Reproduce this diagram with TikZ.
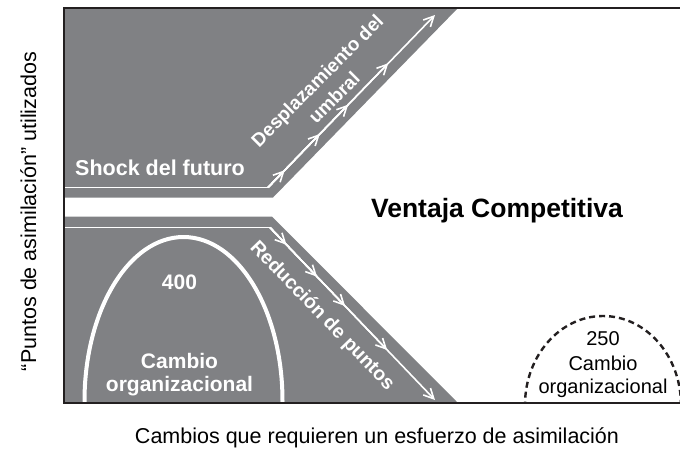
\documentclass[tikz,border=0pt]{standalone}
\usepackage{fontspec}
\setmainfont{Liberation Sans}
\usetikzlibrary{arrows.meta,calc}
\definecolor{shade}{RGB}{128,129,132}
\definecolor{ink}{RGB}{35,31,32}
\begin{document}
\begin{tikzpicture}[x=1pt,y=-1pt,
  region/.style={fill=shade,draw=none},
  axisline/.style={draw=ink,line width=2.6pt},
  flowline/.style={draw=white,line width=1.8pt},
  flowarrow/.style={draw=white,line width=1.6pt,-{Straight Barb[length=10pt,width=10pt,line width=1.6pt]}},
  archline/.style={draw=white,line width=4pt},
  dasharch/.style={draw=ink,line width=2.4pt,dash pattern=on 6pt off 4pt},
  lbl/.style={inner sep=0pt,text=black},
  wlbl/.style={inner sep=0pt,text=white},
]
\useasboundingbox (0,0) rectangle (680,451);
% regions
\fill[region] (64,8) -- (458,8) -- (273,197.5) -- (64,197.5) -- cycle;
\fill[region] (64,216.5) -- (272,216.5) -- (458,403) -- (64,403) -- cycle;
% arches
\begin{scope}
  \clip (64,8) rectangle (690,403);
  \draw[archline] (183.5,401) ellipse [x radius=99, y radius=164];
  \draw[dasharch] (603,405) ellipse [x radius=78, y radius=89];
\end{scope}
% upper flow
\coordinate (u0) at (64,187.5);
\coordinate (uk) at (268,187.5);
\coordinate (ut) at (435,15);
\draw[flowline] (u0) -- (uk);
\foreach \f in {0.10,0.31,0.48,0.72,1.0}
  \draw[flowarrow] (uk) -- ($(uk)!\f!(ut)$);
% lower flow
\coordinate (l0) at (64,227.5);
\coordinate (lk) at (270,227.5);
\coordinate (lt) at (435,400);
\draw[flowline] (l0) -- (lk);
\foreach \f in {0.10,0.285,0.455,0.71,1.0}
  \draw[flowarrow] (lk) -- ($(lk)!\f!(lt)$);
% frame
\coordinate (TL) at (64,8);
\coordinate (TR) at (680,8);
\coordinate (BL) at (64,403);
\coordinate (BR) at (680,403);
\draw[axisline] (TR) -- (TL) -- (BL) -- (BR);
% texts
\node[wlbl,anchor=base west,font=\fontsize{21.5}{25}\selectfont\bfseries] (shock) at (75,175) {Shock del futuro};
\node[wlbl,align=center,rotate=45,font=\fontsize{19}{24}\selectfont\bfseries] (despl) at (325.5,89) {Desplazamiento del\\umbral};
\node[wlbl,rotate=-46,font=\fontsize{19.5}{24}\selectfont\bfseries] (reduc) at (322,316) {Reducción de puntos};
\node[lbl,anchor=base,font=\fontsize{26.5}{30}\selectfont\bfseries] (ventaja) at (497,217) {Ventaja Competitiva};
\node[wlbl,anchor=base,font=\fontsize{21}{24}\selectfont\bfseries] (n400) at (179.5,289) {400};
\node[wlbl,anchor=base,font=\fontsize{21}{24}\selectfont\bfseries] (camA) at (179.5,368) {Cambio};
\node[wlbl,anchor=base,font=\fontsize{21}{24}\selectfont\bfseries] (orgA) at (179.5,391) {organizacional};
\node[lbl,anchor=base,font=\fontsize{20}{24}\selectfont] (n250) at (603,345) {250};
\node[lbl,anchor=base,font=\fontsize{20}{24}\selectfont] (camB) at (603,370) {Cambio};
\node[lbl,anchor=base,font=\fontsize{20}{24}\selectfont] (orgB) at (603,393) {organizacional};
\node[lbl,anchor=base,font=\fontsize{21.5}{25}\selectfont] (xlab) at (377,443) {Cambios que requieren un esfuerzo de asimilación};
\node[lbl,anchor=base,rotate=90,font=\fontsize{21.5}{25}\selectfont] (ylab) at (36,211.5) {“Puntos de asimilación” utilizados};
\end{tikzpicture}
\end{document}
